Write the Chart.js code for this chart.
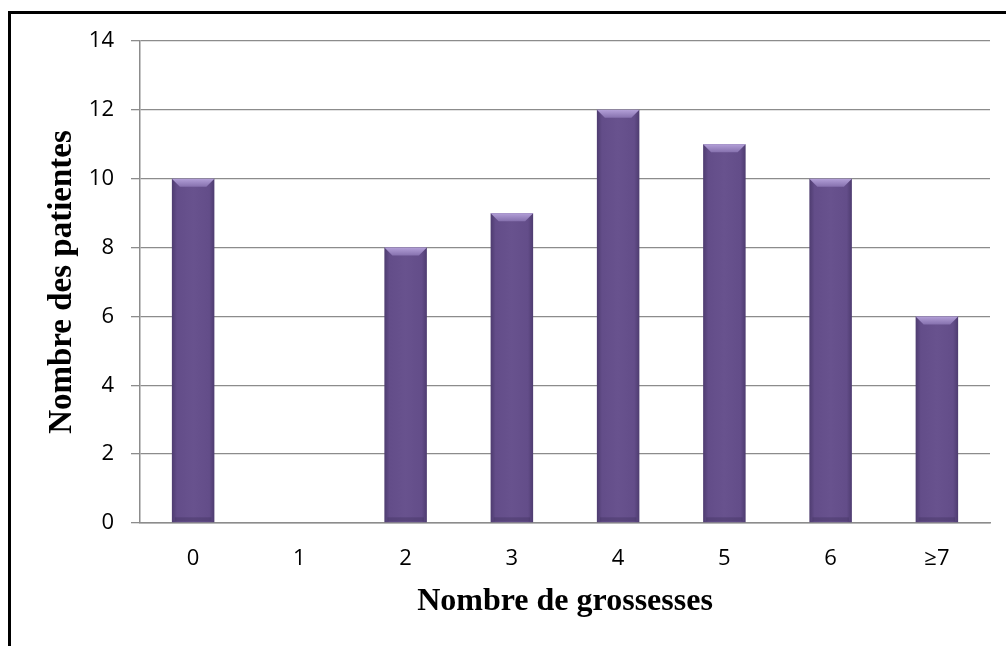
<!DOCTYPE html>
<html>
<head>
<meta charset="utf-8">
<script src="https://cdn.jsdelivr.net/npm/chart.js@4/dist/chart.umd.min.js"></script>
<style>
  html, body { margin: 0; padding: 0; background: #fff; }
  #wrap { position: relative; width: 1006px; height: 646px; overflow: hidden; }
  #frame {
    position: absolute; left: 8px; top: 11px; right: -10px; bottom: -10px;
    border-left: 3px solid #000; border-top: 3px solid #000;
    pointer-events: none;
  }
  canvas { position: absolute; left: 0; top: 0; }
</style>
</head>
<body>
<div id="wrap">
  <canvas id="chart" width="1006" height="646"></canvas>
  <div id="frame"></div>
</div>
<script>
// number of pregnancies per patient
var categories = ["0", "1", "2", "3", "4", "5", "6", "≥7"];
var patients = [10, 0, 8, 9, 12, 11, 10, 6];
var yTicks = [0, 2, 4, 6, 8, 10, 12, 14];

var tickFont = { family: "'Open Sans', 'DejaVu Sans', sans-serif", size: 22 };
var titleFont = { family: "'Liberation Serif', 'Times New Roman', serif", weight: "bold" };

// purple bar body, darker towards the side edges
function barFill(context) {
    var chart = context.chart;
    var xs = chart.scales && chart.scales.x;
    if (!xs || context.dataIndex === undefined) return "#624c88";
    var cx = xs.getPixelForValue(context.dataIndex);
    var w = (xs.width / categories.length) * 0.4;
    if (!isFinite(cx) || !isFinite(w) || w <= 0) return "#624c88";
    var g = chart.ctx.createLinearGradient(cx - w / 2, 0, cx + w / 2, 0);
    g.addColorStop(0, "#4e3c70");
    g.addColorStop(0.12, "#634d89");
    g.addColorStop(0.5, "#68528e");
    g.addColorStop(0.88, "#634d89");
    g.addColorStop(1, "#4e3c70");
    return g;
}

// light bevel on top of each bar and a soft shade under it
var bevel = {
    id: "bevel",
    afterDatasetsDraw: function(chart) {
        var ctx = chart.ctx;
        chart.getDatasetMeta(0).data.forEach(function(bar, i) {
            if (!patients[i]) return;
            var l = bar.x - bar.width / 2, r = bar.x + bar.width / 2;
            var t = bar.y, b = bar.base, d = 8;
            ctx.save();
            var g = ctx.createLinearGradient(0, t, 0, t + d);
            g.addColorStop(0, "#b3a0d8");
            g.addColorStop(1, "#8671ae");
            ctx.fillStyle = g;
            ctx.beginPath();
            ctx.moveTo(l, t);
            ctx.lineTo(r, t);
            ctx.lineTo(r - d, t + d);
            ctx.lineTo(l + d, t + d);
            ctx.closePath();
            ctx.fill();
            ctx.fillStyle = "rgba(60,45,90,0.35)";
            ctx.fillRect(l + 3, b - 5, r - l - 6, 4);
            ctx.restore();
        });
    }
};

new Chart(document.getElementById("chart"), {
    type: "bar",
    data: {
        labels: categories,
        datasets: [{
            label: "Nombre des patientes",
            data: patients,
            backgroundColor: barFill,
            borderWidth: 0,
            categoryPercentage: 0.8,
            barPercentage: 0.5
        }]
    },
    options: {
        responsive: false,
        animation: false,
        layout: { padding: { left: 40, right: 16, top: 41, bottom: 0 } },
        plugins: {
            legend: { display: false },
            tooltip: { enabled: false }
        },
        scales: {
            x: {
                grid: { display: false, drawTicks: false },
                border: { display: true, color: "#8c8c8c", width: 1.5 },
                ticks: { color: "#000", font: tickFont, padding: 23 },
                title: {
                    display: true,
                    text: "Nombre de grossesses",
                    color: "#000",
                    font: Object.assign({ size: 32 }, titleFont),
                    padding: { top: 0, bottom: 25 }
                },
                afterFit: function(scale) { scale.height = 123; }
            },
            y: {
                min: 0,
                max: 14,
                afterBuildTicks: function(scale) {
                    scale.ticks = yTicks.map(function(v) { return { value: v }; });
                },
                grid: { color: "#8c8c8c", lineWidth: 1.3, tickLength: 9 },
                border: { display: true, color: "#8c8c8c", width: 1.5 },
                ticks: { color: "#000", font: tickFont, padding: 17 },
                title: {
                    display: true,
                    text: "Nombre des patientes",
                    color: "#000",
                    font: Object.assign({ size: 33 }, titleFont),
                    padding: { top: 3, bottom: 0 }
                },
                afterFit: function(scale) { scale.width = 100; }
            }
        }
    },
    plugins: [bevel]
});
</script>
</body>
</html>
